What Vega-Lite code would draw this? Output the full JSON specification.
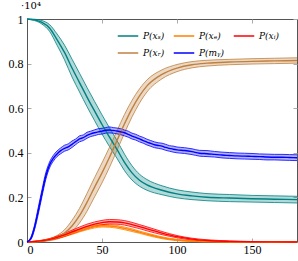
{
  "$schema": "https://vega.github.io/schema/vega-lite/v6.json",
  "width": 270,
  "height": 223,
  "autosize": {"type": "none"},
  "padding": {"left": 27, "top": 19, "right": 1, "bottom": 19},
  "title": {"text": "·10⁴", "anchor": "start", "frame": "group", "dx": -6, "offset": 2, "fontSize": 10, "font": "DejaVu Serif", "fontWeight": "normal", "color": "#000"},
  "config": {
    "view": {"stroke": "#555", "strokeWidth": 1},
    "font": "Liberation Serif",
    "axis": {"domainColor": "#555", "tickColor": "#aaa", "labelFont": "Liberation Serif", "labelFontSize": 12, "labelColor": "#000", "grid": false, "title": null}
  },
  "datasets": {
    "d": [
      {"s": "P(xₛ)", "t": 0, "lo": 1.0, "m": 1.0, "hi": 1.0},
      {"s": "P(xₛ)", "t": 5, "lo": 0.993, "m": 0.996, "hi": 0.999},
      {"s": "P(xₛ)", "t": 10, "lo": 0.977, "m": 0.985, "hi": 0.993},
      {"s": "P(xₛ)", "t": 15, "lo": 0.945, "m": 0.96, "hi": 0.975},
      {"s": "P(xₛ)", "t": 20, "lo": 0.883, "m": 0.908, "hi": 0.933},
      {"s": "P(xₛ)", "t": 25, "lo": 0.817, "m": 0.85, "hi": 0.883},
      {"s": "P(xₛ)", "t": 30, "lo": 0.74, "m": 0.78, "hi": 0.82},
      {"s": "P(xₛ)", "t": 35, "lo": 0.673, "m": 0.715, "hi": 0.757},
      {"s": "P(xₛ)", "t": 40, "lo": 0.607, "m": 0.65, "hi": 0.693},
      {"s": "P(xₛ)", "t": 45, "lo": 0.545, "m": 0.588, "hi": 0.631},
      {"s": "P(xₛ)", "t": 50, "lo": 0.484, "m": 0.527, "hi": 0.57},
      {"s": "P(xₛ)", "t": 55, "lo": 0.428, "m": 0.47, "hi": 0.512},
      {"s": "P(xₛ)", "t": 60, "lo": 0.375, "m": 0.415, "hi": 0.455},
      {"s": "P(xₛ)", "t": 65, "lo": 0.32, "m": 0.357, "hi": 0.394},
      {"s": "P(xₛ)", "t": 70, "lo": 0.278, "m": 0.31, "hi": 0.342},
      {"s": "P(xₛ)", "t": 75, "lo": 0.25, "m": 0.277, "hi": 0.304},
      {"s": "P(xₛ)", "t": 80, "lo": 0.232, "m": 0.256, "hi": 0.28},
      {"s": "P(xₛ)", "t": 90, "lo": 0.212, "m": 0.232, "hi": 0.252},
      {"s": "P(xₛ)", "t": 100, "lo": 0.198, "m": 0.216, "hi": 0.234},
      {"s": "P(xₛ)", "t": 110, "lo": 0.19, "m": 0.207, "hi": 0.224},
      {"s": "P(xₛ)", "t": 120, "lo": 0.185, "m": 0.201, "hi": 0.217},
      {"s": "P(xₛ)", "t": 135, "lo": 0.181, "m": 0.197, "hi": 0.213},
      {"s": "P(xₛ)", "t": 150, "lo": 0.179, "m": 0.194, "hi": 0.209},
      {"s": "P(xₛ)", "t": 165, "lo": 0.177, "m": 0.192, "hi": 0.207},
      {"s": "P(xₛ)", "t": 180, "lo": 0.175, "m": 0.19, "hi": 0.205},

      {"s": "P(xᵣ)", "t": 0, "lo": 0, "m": 0, "hi": 0},
      {"s": "P(xᵣ)", "t": 5, "lo": 0, "m": 0.001, "hi": 0.002},
      {"s": "P(xᵣ)", "t": 10, "lo": 0.002, "m": 0.004, "hi": 0.006},
      {"s": "P(xᵣ)", "t": 15, "lo": 0.006, "m": 0.01, "hi": 0.014},
      {"s": "P(xᵣ)", "t": 20, "lo": 0.013, "m": 0.021, "hi": 0.029},
      {"s": "P(xᵣ)", "t": 25, "lo": 0.025, "m": 0.04, "hi": 0.055},
      {"s": "P(xᵣ)", "t": 30, "lo": 0.047, "m": 0.072, "hi": 0.097},
      {"s": "P(xᵣ)", "t": 35, "lo": 0.085, "m": 0.118, "hi": 0.151},
      {"s": "P(xᵣ)", "t": 40, "lo": 0.138, "m": 0.178, "hi": 0.218},
      {"s": "P(xᵣ)", "t": 45, "lo": 0.202, "m": 0.245, "hi": 0.288},
      {"s": "P(xᵣ)", "t": 50, "lo": 0.265, "m": 0.31, "hi": 0.355},
      {"s": "P(xᵣ)", "t": 55, "lo": 0.335, "m": 0.38, "hi": 0.425},
      {"s": "P(xᵣ)", "t": 60, "lo": 0.411, "m": 0.455, "hi": 0.499},
      {"s": "P(xᵣ)", "t": 65, "lo": 0.488, "m": 0.53, "hi": 0.572},
      {"s": "P(xᵣ)", "t": 70, "lo": 0.561, "m": 0.598, "hi": 0.635},
      {"s": "P(xᵣ)", "t": 75, "lo": 0.623, "m": 0.655, "hi": 0.687},
      {"s": "P(xᵣ)", "t": 80, "lo": 0.673, "m": 0.7, "hi": 0.727},
      {"s": "P(xᵣ)", "t": 90, "lo": 0.732, "m": 0.752, "hi": 0.772},
      {"s": "P(xᵣ)", "t": 100, "lo": 0.764, "m": 0.78, "hi": 0.796},
      {"s": "P(xᵣ)", "t": 110, "lo": 0.781, "m": 0.795, "hi": 0.809},
      {"s": "P(xᵣ)", "t": 120, "lo": 0.789, "m": 0.802, "hi": 0.815},
      {"s": "P(xᵣ)", "t": 135, "lo": 0.795, "m": 0.807, "hi": 0.819},
      {"s": "P(xᵣ)", "t": 150, "lo": 0.798, "m": 0.81, "hi": 0.822},
      {"s": "P(xᵣ)", "t": 165, "lo": 0.8, "m": 0.812, "hi": 0.824},
      {"s": "P(xᵣ)", "t": 180, "lo": 0.802, "m": 0.814, "hi": 0.826},

      {"s": "P(xₑ)", "t": 0, "lo": 0, "m": 0, "hi": 0},
      {"s": "P(xₑ)", "t": 5, "lo": 0.001, "m": 0.002, "hi": 0.003},
      {"s": "P(xₑ)", "t": 10, "lo": 0.004, "m": 0.006, "hi": 0.008},
      {"s": "P(xₑ)", "t": 15, "lo": 0.009, "m": 0.012, "hi": 0.015},
      {"s": "P(xₑ)", "t": 20, "lo": 0.016, "m": 0.02, "hi": 0.024},
      {"s": "P(xₑ)", "t": 25, "lo": 0.024, "m": 0.029, "hi": 0.034},
      {"s": "P(xₑ)", "t": 30, "lo": 0.034, "m": 0.04, "hi": 0.046},
      {"s": "P(xₑ)", "t": 35, "lo": 0.045, "m": 0.051, "hi": 0.057},
      {"s": "P(xₑ)", "t": 40, "lo": 0.055, "m": 0.061, "hi": 0.067},
      {"s": "P(xₑ)", "t": 45, "lo": 0.063, "m": 0.069, "hi": 0.075},
      {"s": "P(xₑ)", "t": 50, "lo": 0.067, "m": 0.073, "hi": 0.079},
      {"s": "P(xₑ)", "t": 55, "lo": 0.066, "m": 0.072, "hi": 0.078},
      {"s": "P(xₑ)", "t": 60, "lo": 0.062, "m": 0.068, "hi": 0.074},
      {"s": "P(xₑ)", "t": 65, "lo": 0.055, "m": 0.061, "hi": 0.067},
      {"s": "P(xₑ)", "t": 70, "lo": 0.047, "m": 0.053, "hi": 0.059},
      {"s": "P(xₑ)", "t": 75, "lo": 0.039, "m": 0.044, "hi": 0.049},
      {"s": "P(xₑ)", "t": 80, "lo": 0.03, "m": 0.035, "hi": 0.04},
      {"s": "P(xₑ)", "t": 90, "lo": 0.015, "m": 0.019, "hi": 0.023},
      {"s": "P(xₑ)", "t": 100, "lo": 0.006, "m": 0.009, "hi": 0.012},
      {"s": "P(xₑ)", "t": 110, "lo": 0.002, "m": 0.004, "hi": 0.006},
      {"s": "P(xₑ)", "t": 120, "lo": 0.001, "m": 0.002, "hi": 0.003},
      {"s": "P(xₑ)", "t": 135, "lo": 0, "m": 0.0005, "hi": 0.001},
      {"s": "P(xₑ)", "t": 150, "lo": 0, "m": 0, "hi": 0.0003},
      {"s": "P(xₑ)", "t": 180, "lo": 0, "m": 0, "hi": 0},

      {"s": "P(xᵢ)", "t": 0, "lo": 0, "m": 0, "hi": 0},
      {"s": "P(xᵢ)", "t": 5, "lo": 0.001, "m": 0.002, "hi": 0.003},
      {"s": "P(xᵢ)", "t": 10, "lo": 0.004, "m": 0.006, "hi": 0.008},
      {"s": "P(xᵢ)", "t": 15, "lo": 0.009, "m": 0.012, "hi": 0.015},
      {"s": "P(xᵢ)", "t": 20, "lo": 0.016, "m": 0.021, "hi": 0.026},
      {"s": "P(xᵢ)", "t": 25, "lo": 0.025, "m": 0.032, "hi": 0.039},
      {"s": "P(xᵢ)", "t": 30, "lo": 0.037, "m": 0.045, "hi": 0.053},
      {"s": "P(xᵢ)", "t": 35, "lo": 0.049, "m": 0.058, "hi": 0.067},
      {"s": "P(xᵢ)", "t": 40, "lo": 0.06, "m": 0.07, "hi": 0.08},
      {"s": "P(xᵢ)", "t": 45, "lo": 0.07, "m": 0.08, "hi": 0.09},
      {"s": "P(xᵢ)", "t": 50, "lo": 0.077, "m": 0.087, "hi": 0.097},
      {"s": "P(xᵢ)", "t": 55, "lo": 0.081, "m": 0.091, "hi": 0.101},
      {"s": "P(xᵢ)", "t": 60, "lo": 0.08, "m": 0.09, "hi": 0.1},
      {"s": "P(xᵢ)", "t": 65, "lo": 0.076, "m": 0.086, "hi": 0.096},
      {"s": "P(xᵢ)", "t": 70, "lo": 0.068, "m": 0.078, "hi": 0.088},
      {"s": "P(xᵢ)", "t": 75, "lo": 0.06, "m": 0.069, "hi": 0.078},
      {"s": "P(xᵢ)", "t": 80, "lo": 0.05, "m": 0.059, "hi": 0.068},
      {"s": "P(xᵢ)", "t": 90, "lo": 0.033, "m": 0.04, "hi": 0.047},
      {"s": "P(xᵢ)", "t": 100, "lo": 0.019, "m": 0.024, "hi": 0.029},
      {"s": "P(xᵢ)", "t": 110, "lo": 0.009, "m": 0.013, "hi": 0.017},
      {"s": "P(xᵢ)", "t": 120, "lo": 0.004, "m": 0.007, "hi": 0.01},
      {"s": "P(xᵢ)", "t": 135, "lo": 0.001, "m": 0.003, "hi": 0.005},
      {"s": "P(xᵢ)", "t": 150, "lo": 0, "m": 0.001, "hi": 0.002},
      {"s": "P(xᵢ)", "t": 165, "lo": 0, "m": 0.0005, "hi": 0.001},
      {"s": "P(xᵢ)", "t": 180, "lo": 0, "m": 0.0002, "hi": 0.0005},

      {"s": "P(mᵧ)", "t": 0, "lo": 0, "m": 0, "hi": 0},
      {"s": "P(mᵧ)", "t": 2.5, "lo": 0.01, "m": 0.015, "hi": 0.02},
      {"s": "P(mᵧ)", "t": 5, "lo": 0.055, "m": 0.065, "hi": 0.075},
      {"s": "P(mᵧ)", "t": 7.5, "lo": 0.125, "m": 0.14, "hi": 0.155},
      {"s": "P(mᵧ)", "t": 10, "lo": 0.205, "m": 0.22, "hi": 0.235},
      {"s": "P(mᵧ)", "t": 12.5, "lo": 0.28, "m": 0.295, "hi": 0.31},
      {"s": "P(mᵧ)", "t": 15, "lo": 0.332, "m": 0.345, "hi": 0.358},
      {"s": "P(mᵧ)", "t": 17.5, "lo": 0.362, "m": 0.375, "hi": 0.388},
      {"s": "P(mᵧ)", "t": 20, "lo": 0.383, "m": 0.395, "hi": 0.408},
      {"s": "P(mᵧ)", "t": 22.5, "lo": 0.396, "m": 0.41, "hi": 0.422},
      {"s": "P(mᵧ)", "t": 25, "lo": 0.407, "m": 0.42, "hi": 0.434},
      {"s": "P(mᵧ)", "t": 27.5, "lo": 0.413, "m": 0.427, "hi": 0.44},
      {"s": "P(mᵧ)", "t": 30, "lo": 0.424, "m": 0.438, "hi": 0.453},
      {"s": "P(mᵧ)", "t": 32.5, "lo": 0.437, "m": 0.45, "hi": 0.462},
      {"s": "P(mᵧ)", "t": 35, "lo": 0.449, "m": 0.462, "hi": 0.476},
      {"s": "P(mᵧ)", "t": 37.5, "lo": 0.455, "m": 0.468, "hi": 0.48},
      {"s": "P(mᵧ)", "t": 40, "lo": 0.465, "m": 0.478, "hi": 0.492},
      {"s": "P(mᵧ)", "t": 42.5, "lo": 0.473, "m": 0.485, "hi": 0.497},
      {"s": "P(mᵧ)", "t": 45, "lo": 0.477, "m": 0.49, "hi": 0.503},
      {"s": "P(mᵧ)", "t": 47.5, "lo": 0.482, "m": 0.494, "hi": 0.508},
      {"s": "P(mᵧ)", "t": 50, "lo": 0.484, "m": 0.497, "hi": 0.51},
      {"s": "P(mᵧ)", "t": 52.5, "lo": 0.488, "m": 0.501, "hi": 0.513},
      {"s": "P(mᵧ)", "t": 55, "lo": 0.489, "m": 0.502, "hi": 0.516},
      {"s": "P(mᵧ)", "t": 57.5, "lo": 0.488, "m": 0.5, "hi": 0.513},
      {"s": "P(mᵧ)", "t": 60, "lo": 0.485, "m": 0.498, "hi": 0.511},
      {"s": "P(mᵧ)", "t": 62.5, "lo": 0.481, "m": 0.494, "hi": 0.508},
      {"s": "P(mᵧ)", "t": 65, "lo": 0.476, "m": 0.49, "hi": 0.502},
      {"s": "P(mᵧ)", "t": 67.5, "lo": 0.47, "m": 0.483, "hi": 0.497},
      {"s": "P(mᵧ)", "t": 70, "lo": 0.462, "m": 0.475, "hi": 0.488},
      {"s": "P(mᵧ)", "t": 72.5, "lo": 0.457, "m": 0.469, "hi": 0.483},
      {"s": "P(mᵧ)", "t": 75, "lo": 0.449, "m": 0.462, "hi": 0.475},
      {"s": "P(mᵧ)", "t": 77.5, "lo": 0.443, "m": 0.455, "hi": 0.469},
      {"s": "P(mᵧ)", "t": 80, "lo": 0.435, "m": 0.448, "hi": 0.461},
      {"s": "P(mᵧ)", "t": 82.5, "lo": 0.429, "m": 0.442, "hi": 0.455},
      {"s": "P(mᵧ)", "t": 85, "lo": 0.423, "m": 0.436, "hi": 0.449},
      {"s": "P(mᵧ)", "t": 87.5, "lo": 0.42, "m": 0.433, "hi": 0.445},
      {"s": "P(mᵧ)", "t": 90, "lo": 0.417, "m": 0.43, "hi": 0.443},
      {"s": "P(mᵧ)", "t": 92.5, "lo": 0.411, "m": 0.424, "hi": 0.438},
      {"s": "P(mᵧ)", "t": 95, "lo": 0.407, "m": 0.42, "hi": 0.432},
      {"s": "P(mᵧ)", "t": 97.5, "lo": 0.403, "m": 0.416, "hi": 0.43},
      {"s": "P(mᵧ)", "t": 100, "lo": 0.4, "m": 0.413, "hi": 0.426},
      {"s": "P(mᵧ)", "t": 105, "lo": 0.397, "m": 0.41, "hi": 0.423},
      {"s": "P(mᵧ)", "t": 110, "lo": 0.392, "m": 0.405, "hi": 0.418},
      {"s": "P(mᵧ)", "t": 115, "lo": 0.385, "m": 0.398, "hi": 0.411},
      {"s": "P(mᵧ)", "t": 120, "lo": 0.383, "m": 0.396, "hi": 0.41},
      {"s": "P(mᵧ)", "t": 125, "lo": 0.381, "m": 0.393, "hi": 0.406},
      {"s": "P(mᵧ)", "t": 130, "lo": 0.377, "m": 0.39, "hi": 0.403},
      {"s": "P(mᵧ)", "t": 135, "lo": 0.375, "m": 0.388, "hi": 0.401},
      {"s": "P(mᵧ)", "t": 140, "lo": 0.373, "m": 0.386, "hi": 0.399},
      {"s": "P(mᵧ)", "t": 145, "lo": 0.372, "m": 0.385, "hi": 0.398},
      {"s": "P(mᵧ)", "t": 150, "lo": 0.371, "m": 0.384, "hi": 0.397},
      {"s": "P(mᵧ)", "t": 155, "lo": 0.37, "m": 0.383, "hi": 0.395},
      {"s": "P(mᵧ)", "t": 160, "lo": 0.368, "m": 0.381, "hi": 0.394},
      {"s": "P(mᵧ)", "t": 165, "lo": 0.368, "m": 0.38, "hi": 0.393},
      {"s": "P(mᵧ)", "t": 170, "lo": 0.367, "m": 0.38, "hi": 0.393},
      {"s": "P(mᵧ)", "t": 175, "lo": 0.366, "m": 0.379, "hi": 0.392},
      {"s": "P(mᵧ)", "t": 180, "lo": 0.365, "m": 0.378, "hi": 0.391}
    ]
  },
  "data": {"name": "d"},
  "layer": [
    {
      "mark": {"type": "area", "opacity": 0.3, "interpolate": "monotone"},
      "encoding": {
        "x": {"field": "t", "type": "quantitative", "scale": {"domain": [0, 180], "nice": false, "zero": false},
              "axis": {"orient": "bottom", "values": [0, 50, 100, 150], "tickSize": -4, "labelPadding": 6}},
        "y": {"field": "lo", "type": "quantitative", "scale": {"domain": [0, 1], "nice": false},
              "axis": {"orient": "left", "values": [0, 0.2, 0.4, 0.6, 0.8, 1], "tickSize": -4, "labelPadding": 8, "labelExpr": "datum.value == 0 ? '0' : datum.value == 1 ? '1' : format(datum.value, '.1f')"}},
        "y2": {"field": "hi"},
        "color": {"field": "s", "type": "nominal",
                  "scale": {"domain": ["P(xₛ)", "P(xᵣ)", "P(xₑ)", "P(mᵧ)", "P(xᵢ)"], "range": ["#008080", "#bf8040", "#ff8000", "#0000ff", "#ff0000"]},
                  "legend": {"orient": "none", "legendX": 90, "legendY": 6, "columns": 3, "title": null, "symbolType": "stroke", "symbolSize": 420, "symbolStrokeWidth": 1.5, "symbolOpacity": 1, "labelFont": "DejaVu Serif", "labelFontStyle": "italic", "labelFontSize": 9, "columnPadding": 5, "rowPadding": 1, "labelOffset": 4}}
      }
    },
    {
      "transform": [{"fold": ["lo", "hi"], "as": ["k", "v"]}],
      "mark": {"type": "line", "strokeWidth": 0.8, "opacity": 1, "interpolate": "monotone"},
      "encoding": {
        "x": {"field": "t", "type": "quantitative",
              "axis": {"orient": "top", "values": [0, 50, 100, 150], "labels": false, "domain": false, "tickSize": -4}},
        "y": {"field": "v", "type": "quantitative",
              "axis": {"orient": "right", "values": [0, 0.2, 0.4, 0.6, 0.8, 1], "labels": false, "domain": false, "tickSize": -4}},
        "color": {"field": "s", "type": "nominal"},
        "detail": {"field": "k"}
      }
    },
    {
      "mark": {"type": "line", "strokeWidth": 1.4, "interpolate": "monotone"},
      "encoding": {
        "x": {"field": "t", "type": "quantitative", "axis": null},
        "y": {"field": "m", "type": "quantitative", "axis": null},
        "color": {"field": "s", "type": "nominal"}
      }
    }
  ],
  "resolve": {"axis": {"x": "independent", "y": "independent"}}
}
